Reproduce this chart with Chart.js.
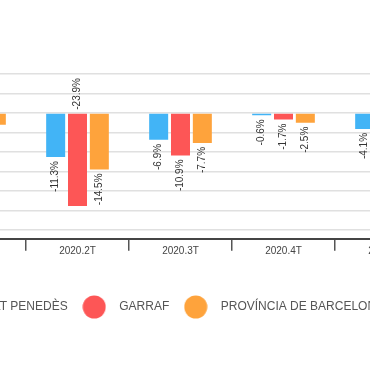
<!DOCTYPE html>
<html>
<head>
<meta charset="utf-8">
<script src="https://cdn.jsdelivr.net/npm/chart.js@4.4.1/dist/chart.umd.min.js"></script>
<style>
  html, body { margin: 0; padding: 0; background: #fff; overflow: hidden; width: 370px; height: 370px; }
  #wrap { position: absolute; left: -112px; top: 0; width: 550px; height: 370px; }
</style>
</head>
<body>
<div id="wrap"><canvas id="chart"></canvas></div>
<script>
// trimestres i variacions (%)
const categories = ['2020.1T', '2020.2T', '2020.3T', '2020.4T', '2021.1T'];
const seriesNames = ['ALT PENEDÈS', 'GARRAF', 'PROVÍNCIA DE BARCELONA'];
const altPenedes = [-2.4, -11.3, -6.9, -0.6, -4.1];
const garraf = [-3.6, -23.9, -10.9, -1.7, -5.2];
const provincia = [-3.0, -14.5, -7.7, -2.5, -3.4];
const yTickStep = 5;

const colors = ['#42b4f6', '#fd5656', '#fea33c'];
const fontFamily = '"Liberation Sans", Arial, Helvetica, sans-serif';

// cercle de la llegenda
function dot(color) {
    const c = document.createElement('canvas');
    c.width = 24; c.height = 24;
    const g = c.getContext('2d');
    g.fillStyle = color;
    g.beginPath();
    g.arc(12, 12, 11.5, 0, Math.PI * 2);
    g.fill();
    return c;
}
const dots = colors.map(dot);

// etiquetes de valor girades
const valueLabels = {
    id: 'valueLabels',
    afterDatasetsDraw(chart) {
        const ctx = chart.ctx;
        const area = chart.chartArea;
        ctx.save();
        ctx.font = '10px ' + fontFamily;
        ctx.fillStyle = '#333';
        ctx.textBaseline = 'middle';
        chart.data.datasets.forEach((ds, i) => {
            chart.getDatasetMeta(i).data.forEach((bar, j) => {
                const txt = ds.data[j].toFixed(1) + '%';
                const w = ctx.measureText(txt).width;
                ctx.save();
                ctx.translate(bar.x, 0);
                ctx.rotate(-Math.PI / 2);
                if (bar.y + 4 + w > area.bottom) {
                    ctx.textAlign = 'left';
                    ctx.fillText(txt, -(bar.base - 4), 0);
                } else {
                    ctx.textAlign = 'right';
                    ctx.fillText(txt, -(bar.y + 4), 0);
                }
                ctx.restore();
            });
        });
        ctx.restore();
    }
};

const series = [altPenedes, garraf, provincia];

new Chart(document.getElementById('chart'), {
    type: 'bar',
    data: {
        labels: categories,
        datasets: series.map((d, i) => ({
            label: seriesNames[i],
            data: d,
            backgroundColor: colors[i],
            borderWidth: 0,
            categoryPercentage: 0.636,
            barPercentage: 0.87
        }))
    },
    options: {
        responsive: true,
        maintainAspectRatio: false,
        animation: false,
        layout: { padding: { top: 74, bottom: 47, left: 0, right: 0 } },
        plugins: {
            tooltip: { enabled: false },
            legend: {
                position: 'bottom',
                labels: {
                    usePointStyle: true,
                    pointStyleWidth: 38,
                    padding: 7.5,
                    color: '#555',
                    font: { size: 12, family: fontFamily },
                    generateLabels(chart) {
                        const items = Chart.defaults.plugins.legend.labels.generateLabels(chart);
                        items.forEach((it, i) => { it.pointStyle = dots[i]; });
                        return items;
                    }
                }
            }
        },
        scales: {
            x: {
                grid: {
                    drawOnChartArea: false,
                    color: '#555',
                    lineWidth: 1.5,
                    tickLength: 12
                },
                border: { color: '#444', width: 2 },
                ticks: {
                    color: '#444',
                    padding: -6,
                    maxRotation: 0,
                    font: { size: 10, family: fontFamily }
                },
                afterFit(scale) { scale.height = 54.7; }
            },
            y: {
                min: -32.3,
                max: 10,
                grid: { color: '#e0e0e0', lineWidth: 1.5 },
                border: { display: false },
                ticks: {
                    stepSize: yTickStep,
                    includeBounds: false,
                    color: '#444',
                    font: { size: 10, family: fontFamily },
                    callback: v => v + '%'
                },
                afterFit(scale) { scale.width = 35; }
            }
        }
    },
    plugins: [valueLabels]
});
</script>
</body>
</html>
